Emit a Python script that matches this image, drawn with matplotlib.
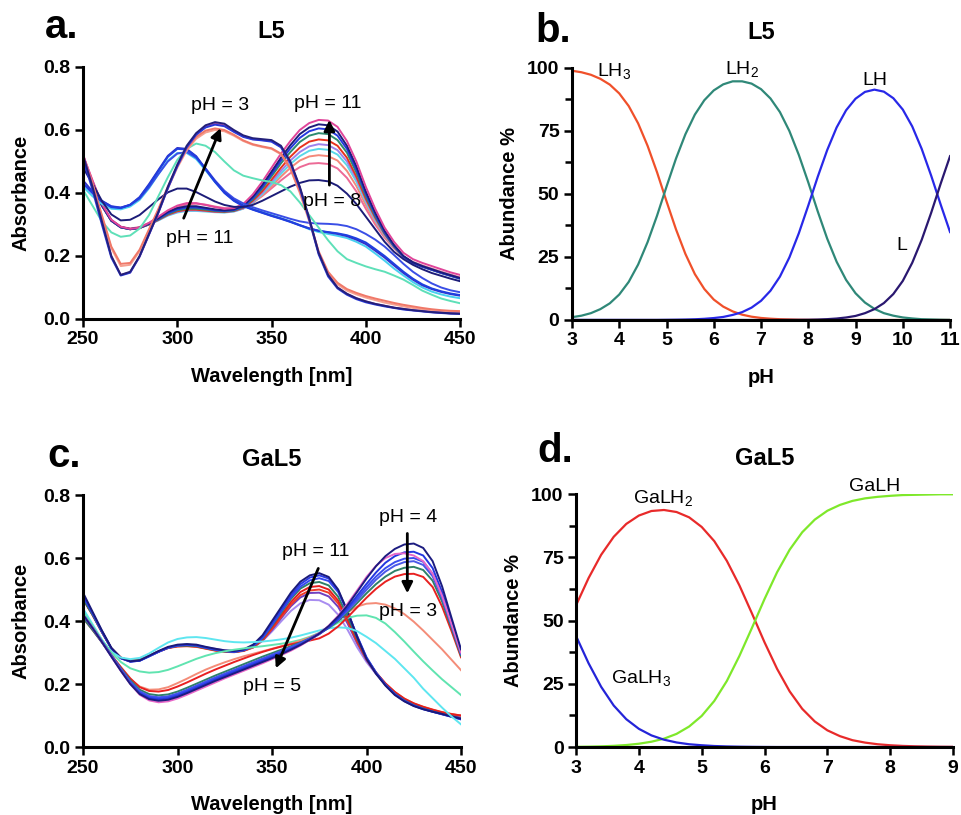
import numpy as np
import matplotlib
matplotlib.use('Agg')
import matplotlib.pyplot as plt
from matplotlib.ticker import MultipleLocator

plt.rcParams['font.family'] = 'Liberation Sans'
plt.rcParams['mathtext.default'] = 'regular'

# wavelength grid (nm), shared by both UV-vis panels
wl = np.arange(250, 451, 5)

# ---- panel a: L5 spectra ----
# high pH set (peak ~378 nm)
a_h1 = [0.52,0.44,0.365,0.315,0.293,0.286,0.29,0.305,0.325,0.345,
        0.36,0.368,0.368,0.362,0.355,0.35,0.352,0.365,0.395,0.435,
        0.48,0.525,0.565,0.60,0.622,0.632,0.63,0.61,0.565,0.50,
        0.42,0.35,0.29,0.245,0.21,0.19,0.178,0.168,0.158,0.148,0.14]
a_h2 = [0.51,0.435,0.362,0.313,0.292,0.286,0.29,0.303,0.32,0.34,
        0.352,0.358,0.358,0.353,0.348,0.345,0.348,0.36,0.388,0.425,
        0.468,0.512,0.552,0.587,0.608,0.618,0.615,0.595,0.55,0.485,
        0.405,0.338,0.28,0.235,0.2,0.18,0.168,0.158,0.148,0.139,0.13]
a_h3 = [0.5,0.43,0.36,0.312,0.291,0.285,0.289,0.302,0.318,0.336,
        0.348,0.354,0.354,0.35,0.345,0.343,0.346,0.357,0.383,0.418,
        0.46,0.503,0.542,0.575,0.596,0.605,0.602,0.582,0.54,0.475,
        0.398,0.332,0.275,0.232,0.198,0.178,0.166,0.156,0.146,0.137,0.128]
a_h4 = [0.5,0.43,0.36,0.312,0.291,0.285,0.289,0.301,0.316,0.333,
        0.345,0.35,0.35,0.347,0.343,0.341,0.344,0.355,0.379,0.413,
        0.453,0.494,0.53,0.562,0.582,0.59,0.587,0.568,0.528,0.465,
        0.39,0.326,0.272,0.23,0.197,0.178,0.166,0.156,0.146,0.137,0.128]
a_h5 = [0.5,0.43,0.36,0.312,0.291,0.285,0.289,0.3,0.315,0.331,
        0.342,0.347,0.347,0.344,0.341,0.34,0.343,0.353,0.375,0.405,
        0.442,0.48,0.515,0.544,0.563,0.57,0.567,0.55,0.512,0.452,
        0.382,0.322,0.27,0.23,0.198,0.179,0.167,0.157,0.147,0.138,0.13]
a_h6 = [0.5,0.43,0.36,0.312,0.291,0.285,0.289,0.3,0.314,0.33,
        0.34,0.345,0.345,0.343,0.34,0.339,0.342,0.351,0.372,0.4,
        0.435,0.47,0.503,0.53,0.548,0.555,0.552,0.536,0.5,0.445,
        0.378,0.318,0.268,0.228,0.197,0.179,0.167,0.157,0.147,0.138,0.13]
a_h7 = [0.5,0.43,0.36,0.312,0.291,0.285,0.289,0.3,0.313,0.328,
        0.338,0.343,0.343,0.341,0.339,0.338,0.341,0.35,0.37,0.396,
        0.428,0.461,0.492,0.517,0.534,0.54,0.537,0.522,0.488,0.436,
        0.372,0.314,0.266,0.228,0.197,0.18,0.168,0.158,0.148,0.139,0.13]
a_h8 = [0.51,0.435,0.362,0.313,0.292,0.286,0.29,0.301,0.315,0.33,
        0.342,0.35,0.352,0.35,0.346,0.343,0.344,0.351,0.368,0.392,
        0.421,0.452,0.48,0.503,0.516,0.52,0.517,0.503,0.47,0.422,
        0.362,0.308,0.262,0.226,0.196,0.18,0.168,0.158,0.148,0.139,0.13]
a_h9 = [0.52,0.44,0.365,0.315,0.293,0.287,0.292,0.305,0.322,0.34,
        0.355,0.364,0.366,0.363,0.357,0.352,0.351,0.356,0.37,0.39,
        0.415,0.44,0.463,0.482,0.493,0.495,0.492,0.478,0.448,0.405,
        0.35,0.3,0.258,0.224,0.196,0.181,0.17,0.16,0.15,0.141,0.132]
# low pH set (peak ~318 nm)
a_l1 = [0.52,0.42,0.31,0.2,0.14,0.15,0.2,0.27,0.34,0.42,
        0.49,0.55,0.59,0.615,0.625,0.62,0.6,0.583,0.574,0.571,
        0.568,0.55,0.5,0.42,0.32,0.21,0.14,0.1,0.08,0.066,
        0.056,0.048,0.042,0.036,0.032,0.028,0.025,0.022,0.02,0.018,0.017]
a_l2 = [0.525,0.42,0.31,0.2,0.14,0.148,0.198,0.268,0.338,0.415,
        0.485,0.545,0.585,0.61,0.62,0.615,0.597,0.58,0.571,0.568,
        0.565,0.547,0.497,0.418,0.318,0.21,0.14,0.1,0.08,0.066,
        0.056,0.048,0.042,0.036,0.032,0.028,0.025,0.022,0.02,0.018,0.017]
a_l3 = [0.51,0.41,0.3,0.195,0.138,0.147,0.198,0.268,0.338,0.415,
        0.485,0.545,0.585,0.608,0.617,0.612,0.594,0.578,0.57,0.567,
        0.563,0.545,0.495,0.415,0.315,0.205,0.135,0.097,0.077,0.063,
        0.053,0.046,0.04,0.035,0.03,0.027,0.024,0.021,0.019,0.017,0.016]
a_l4 = [0.52,0.43,0.33,0.23,0.175,0.178,0.22,0.285,0.35,0.42,
        0.485,0.54,0.578,0.598,0.605,0.6,0.585,0.567,0.555,0.548,
        0.542,0.525,0.478,0.405,0.315,0.215,0.15,0.115,0.095,0.083,
        0.073,0.065,0.058,0.051,0.045,0.04,0.035,0.031,0.028,0.026,0.025]
a_l5 = [0.52,0.43,0.325,0.225,0.168,0.172,0.215,0.28,0.345,0.415,
        0.48,0.535,0.572,0.592,0.6,0.596,0.582,0.565,0.553,0.546,
        0.54,0.523,0.476,0.4,0.31,0.21,0.145,0.11,0.09,0.078,
        0.068,0.06,0.052,0.046,0.04,0.035,0.031,0.028,0.025,0.023,0.022]
# intermediate pH (peak ~302 nm)
a_b1 = [0.43,0.4,0.372,0.355,0.352,0.362,0.385,0.425,0.47,0.515,
        0.54,0.538,0.515,0.475,0.435,0.4,0.375,0.358,0.347,0.337,
        0.327,0.318,0.308,0.297,0.287,0.28,0.276,0.272,0.266,0.256,
        0.243,0.222,0.2,0.175,0.15,0.128,0.11,0.097,0.088,0.081,0.076]
a_b2 = [0.42,0.39,0.365,0.35,0.348,0.357,0.378,0.415,0.46,0.503,
        0.527,0.527,0.508,0.472,0.435,0.403,0.38,0.362,0.35,0.34,
        0.33,0.32,0.31,0.298,0.285,0.276,0.27,0.264,0.257,0.245,
        0.23,0.208,0.185,0.16,0.138,0.117,0.1,0.087,0.078,0.071,0.066]
a_b3 = [0.43,0.4,0.375,0.358,0.354,0.362,0.382,0.418,0.46,0.5,
        0.525,0.53,0.512,0.478,0.44,0.407,0.383,0.367,0.355,0.345,
        0.336,0.327,0.318,0.31,0.305,0.303,0.302,0.3,0.295,0.285,
        0.27,0.252,0.23,0.203,0.175,0.15,0.13,0.113,0.1,0.091,0.085]
a_b4 = [0.44,0.405,0.375,0.357,0.353,0.363,0.387,0.428,0.473,0.518,
        0.543,0.54,0.517,0.477,0.437,0.402,0.377,0.36,0.348,0.338,
        0.328,0.319,0.309,0.298,0.288,0.28,0.275,0.27,0.263,0.252,
        0.238,0.217,0.195,0.17,0.146,0.125,0.107,0.095,0.086,0.079,0.074]
a_n8 = [0.48,0.43,0.375,0.332,0.313,0.315,0.33,0.355,0.38,0.402,
        0.414,0.414,0.403,0.388,0.373,0.362,0.356,0.356,0.362,0.375,
        0.39,0.405,0.42,0.432,0.44,0.441,0.437,0.423,0.398,0.365,
        0.325,0.285,0.245,0.213,0.19,0.172,0.158,0.146,0.137,0.128,0.12]
a_t1 = [0.41,0.36,0.31,0.275,0.261,0.265,0.287,0.33,0.39,0.45,
        0.505,0.54,0.557,0.55,0.53,0.5,0.472,0.455,0.447,0.44,
        0.435,0.425,0.405,0.37,0.33,0.29,0.25,0.215,0.19,0.178,
        0.167,0.158,0.15,0.138,0.125,0.108,0.09,0.077,0.065,0.057,0.05]

# ---- panel c: GaL5 spectra ----
# peak ~375 nm
c_p1 = [0.49,0.43,0.37,0.315,0.283,0.272,0.275,0.29,0.305,0.318,
        0.325,0.327,0.325,0.318,0.312,0.307,0.305,0.31,0.325,0.355,
        0.4,0.445,0.49,0.525,0.545,0.552,0.54,0.5,0.43,0.35,
        0.28,0.233,0.195,0.165,0.145,0.13,0.12,0.112,0.105,0.097,0.09]
c_p2 = [0.48,0.425,0.367,0.313,0.282,0.271,0.274,0.288,0.303,0.316,
        0.323,0.325,0.323,0.316,0.31,0.305,0.303,0.308,0.322,0.35,
        0.393,0.438,0.482,0.517,0.538,0.545,0.535,0.497,0.43,0.352,
        0.283,0.235,0.197,0.167,0.146,0.131,0.12,0.112,0.104,0.096,0.088]
c_p3 = [0.48,0.425,0.367,0.313,0.282,0.271,0.274,0.288,0.302,0.315,
        0.322,0.324,0.322,0.315,0.309,0.304,0.302,0.307,0.32,0.347,
        0.388,0.432,0.475,0.509,0.529,0.536,0.527,0.492,0.428,0.353,
        0.285,0.237,0.198,0.168,0.147,0.132,0.121,0.112,0.104,0.096,0.088]
c_p4 = [0.47,0.42,0.365,0.313,0.283,0.273,0.276,0.289,0.303,0.315,
        0.321,0.322,0.32,0.314,0.308,0.304,0.302,0.307,0.32,0.345,
        0.385,0.428,0.47,0.503,0.52,0.524,0.513,0.477,0.415,0.345,
        0.282,0.236,0.198,0.169,0.148,0.133,0.122,0.113,0.105,0.098,0.09]
c_p5 = [0.47,0.42,0.365,0.313,0.284,0.274,0.277,0.29,0.303,0.315,
        0.32,0.321,0.319,0.313,0.307,0.303,0.302,0.306,0.318,0.342,
        0.38,0.42,0.46,0.492,0.508,0.511,0.5,0.465,0.405,0.338,
        0.28,0.237,0.202,0.174,0.153,0.138,0.127,0.118,0.11,0.104,0.1]
c_p6 = [0.47,0.42,0.365,0.313,0.284,0.274,0.277,0.29,0.303,0.314,
        0.319,0.32,0.318,0.312,0.306,0.302,0.301,0.305,0.316,0.339,
        0.375,0.414,0.452,0.482,0.497,0.5,0.49,0.456,0.4,0.335,
        0.278,0.236,0.202,0.175,0.154,0.139,0.128,0.119,0.111,0.105,0.1]
c_p7 = [0.48,0.425,0.367,0.313,0.282,0.272,0.275,0.289,0.303,0.315,
        0.321,0.323,0.321,0.315,0.309,0.304,0.302,0.306,0.316,0.338,
        0.372,0.41,0.447,0.475,0.489,0.49,0.478,0.445,0.392,0.33,
        0.276,0.234,0.2,0.172,0.151,0.136,0.125,0.116,0.108,0.1,0.093]
c_p8 = [0.47,0.42,0.365,0.313,0.283,0.273,0.276,0.289,0.303,0.315,
        0.321,0.323,0.322,0.317,0.312,0.307,0.305,0.308,0.318,0.337,
        0.367,0.4,0.432,0.456,0.467,0.466,0.452,0.42,0.372,0.317,
        0.27,0.232,0.199,0.172,0.151,0.136,0.125,0.116,0.108,0.1,0.093]
# transition curves
c_cy = [0.44,0.39,0.34,0.302,0.284,0.279,0.283,0.297,0.315,0.332,
        0.343,0.348,0.349,0.346,0.341,0.336,0.333,0.332,0.333,0.335,
        0.338,0.342,0.347,0.354,0.362,0.37,0.377,0.38,0.378,0.368,
        0.35,0.33,0.305,0.28,0.25,0.22,0.185,0.155,0.125,0.097,0.072]
c_tq = [0.43,0.385,0.34,0.3,0.27,0.25,0.24,0.236,0.238,0.245,
        0.256,0.268,0.28,0.29,0.298,0.304,0.309,0.313,0.317,0.32,
        0.324,0.328,0.333,0.34,0.35,0.362,0.378,0.395,0.41,0.417,
        0.418,0.41,0.392,0.365,0.335,0.303,0.272,0.243,0.215,0.19,0.165]
c_sa = [0.42,0.38,0.335,0.29,0.25,0.215,0.192,0.182,0.183,0.19,
        0.203,0.217,0.232,0.246,0.258,0.269,0.279,0.288,0.296,0.304,
        0.312,0.32,0.328,0.337,0.348,0.362,0.382,0.405,0.428,0.446,
        0.455,0.457,0.452,0.44,0.422,0.398,0.37,0.34,0.31,0.277,0.244]
# peak ~425 nm
c_q1 = [0.42,0.378,0.333,0.287,0.242,0.2,0.168,0.152,0.147,0.15,
        0.159,0.171,0.184,0.197,0.21,0.222,0.234,0.246,0.258,0.27,
        0.282,0.295,0.309,0.324,0.341,0.36,0.384,0.414,0.45,0.492,
        0.535,0.574,0.606,0.629,0.643,0.646,0.632,0.59,0.51,0.41,0.31]
c_q2 = [0.42,0.378,0.333,0.287,0.242,0.2,0.166,0.148,0.142,0.145,
        0.154,0.166,0.179,0.192,0.205,0.218,0.23,0.242,0.254,0.266,
        0.279,0.292,0.306,0.322,0.34,0.36,0.385,0.417,0.455,0.497,
        0.54,0.575,0.6,0.613,0.615,0.608,0.59,0.55,0.48,0.39,0.3]
c_q3 = [0.42,0.378,0.334,0.288,0.244,0.202,0.17,0.155,0.151,0.154,
        0.163,0.175,0.188,0.201,0.214,0.226,0.238,0.25,0.262,0.274,
        0.286,0.298,0.311,0.325,0.341,0.358,0.38,0.408,0.442,0.48,
        0.518,0.554,0.585,0.606,0.618,0.62,0.608,0.568,0.492,0.4,0.305]
c_q4 = [0.42,0.378,0.335,0.29,0.246,0.205,0.174,0.159,0.155,0.158,
        0.167,0.179,0.192,0.205,0.218,0.23,0.242,0.254,0.266,0.278,
        0.29,0.302,0.314,0.328,0.343,0.36,0.38,0.405,0.437,0.472,
        0.508,0.541,0.568,0.587,0.598,0.6,0.588,0.55,0.478,0.39,0.3]
c_q5 = [0.42,0.379,0.336,0.291,0.248,0.208,0.177,0.162,0.158,0.161,
        0.17,0.182,0.195,0.208,0.221,0.233,0.245,0.257,0.269,0.281,
        0.293,0.305,0.317,0.33,0.345,0.361,0.38,0.404,0.433,0.465,
        0.499,0.531,0.557,0.576,0.587,0.59,0.578,0.542,0.472,0.385,0.295]
c_q6 = [0.41,0.372,0.332,0.29,0.25,0.212,0.182,0.168,0.164,0.167,
        0.176,0.188,0.201,0.214,0.227,0.239,0.251,0.263,0.275,0.287,
        0.298,0.309,0.32,0.332,0.345,0.36,0.378,0.4,0.427,0.457,
        0.488,0.517,0.541,0.559,0.569,0.572,0.562,0.528,0.462,0.378,0.29]
c_q7 = [0.41,0.372,0.333,0.292,0.254,0.218,0.19,0.178,0.176,0.181,
        0.192,0.205,0.219,0.233,0.246,0.258,0.27,0.281,0.292,0.302,
        0.311,0.319,0.326,0.332,0.338,0.345,0.36,0.383,0.412,0.443,
        0.474,0.502,0.525,0.541,0.549,0.55,0.54,0.508,0.446,0.368,0.285]

# ---- panel b: L5 species distribution (%) ----
ph_b = np.arange(3, 11.01, 0.2)
lh3 = [98.9,98.3,97.3,95.7,93.4,89.9,84.9,78.0,69.1,58.6,
       47.1,36.0,26.2,18.2,12.3,8.1,5.3,3.4,2.1,1.3,
       0.8,0.5,0.3,0.2,0.1,0.05,0.02,0,0,0,
       0,0,0,0,0,0,0,0,0,0,0]
lh2 = [1.1,1.7,2.7,4.3,6.6,10.1,15.1,22.0,30.9,41.4,
       52.9,64.0,73.7,81.5,87.2,91.1,93.5,94.7,94.7,93.8,
       91.6,87.9,82.5,75.0,65.5,54.6,43.1,32.3,23.1,15.9,
       10.6,6.9,4.4,2.7,1.7,1.0,0.6,0.3,0.2,0.1,0.04]
lh = [0,0,0,0,0,0,0,0,0,0,
      0.04,0.08,0.15,0.27,0.46,0.76,1.2,2.0,3.1,4.9,
      7.6,11.6,17.2,24.8,34.4,45.4,56.8,67.4,76.4,83.2,
      87.8,90.5,91.4,90.6,88.0,83.5,76.8,67.9,57.3,45.9,34.9]
l_free = [0,0,0,0,0,0,0,0,0,0,
          0,0,0,0,0,0,0,0,0,0,
          0,0,0,0.02,0.04,0.08,0.17,0.32,0.57,0.98,
          1.6,2.7,4.3,6.7,10.3,15.5,22.7,31.8,42.5,54.0,65.0]

# ---- panel d: GaL5 species distribution (%) ----
ph_d = np.arange(3, 9.01, 0.2)
galh3 = [43.9,33.1,23.8,16.4,11.0,7.2,4.6,2.9,1.8,1.1,
         0.7,0.4,0.23,0.13,0.07,0.03,0,0,0,0,
         0,0,0,0,0,0,0,0,0,0,0]
galh2 = [56.0,66.8,76.0,83.1,88.2,91.5,93.3,93.7,92.9,90.8,
         87.0,81.4,73.6,63.9,52.8,41.4,30.9,22.0,15.1,10.1,
         6.6,4.3,2.7,1.75,1.1,0.7,0.44,0.28,0.18,0.11,0.07]
galh = [0.08,0.15,0.27,0.47,0.79,1.3,2.1,3.3,5.2,8.1,
        12.3,18.2,26.1,36.0,47.1,58.5,69.1,78.0,84.9,89.9,
        93.4,95.7,97.3,98.3,98.9,99.3,99.6,99.7,99.8,99.9,99.9]


def style(ax):
    # prism-like look: thick left/bottom axes, bold ticks
    for s in ['top', 'right']:
        ax.spines[s].set_visible(False)
    for s in ['left', 'bottom']:
        ax.spines[s].set_linewidth(2.2)
    ax.tick_params(which='major', direction='out', length=6, width=1.8, pad=3)
    ax.tick_params(which='minor', direction='out', length=5, width=1.8)
    for lab in ax.get_xticklabels() + ax.get_yticklabels():
        lab.set_fontweight('bold')
        lab.set_fontsize(14)


fig = plt.figure(figsize=(9.61, 8.15), dpi=100)
axA = fig.add_axes([0.0864, 0.6086, 0.3923, 0.3092])
axB = fig.add_axes([0.5952, 0.6074, 0.3934, 0.3092])
axC = fig.add_axes([0.0864, 0.0834, 0.3933, 0.3092])
axD = fig.add_axes([0.5994, 0.0834, 0.3923, 0.3104])

lw = 1.4
# panel a
for y, c in [(a_h9, '#ec6a96'), (a_h8, '#f4887a'), (a_h7, '#5ad8e8'), (a_h6, '#9c82ec'),
             (a_h5, '#e8321e'), (a_h4, '#2e8b6e'), (a_h3, '#2438e0'), (a_h2, '#1c1c7a'),
             (a_h1, '#e0459a'), (a_b2, '#48d0f0'), (a_b3, '#3a4ee6'), (a_b4, '#3030c8'),
             (a_b1, '#1f3fe0'), (a_n8, '#1c1c78'), (a_t1, '#5ee0b8'), (a_l5, '#f5a090'),
             (a_l4, '#f07868'), (a_l2, '#c050a8'), (a_l3, '#2838d8'), (a_l1, '#23207a')]:
    axA.plot(wl, y, color=c, lw=lw)
axA.set_xlim(250, 450)
axA.set_ylim(0, 0.8)
axA.xaxis.set_major_locator(MultipleLocator(50))
axA.yaxis.set_major_locator(MultipleLocator(0.2))
axA.set_xlabel('Wavelength [nm]', fontsize=14.5, fontweight='bold')
axA.set_ylabel('Absorbance', fontsize=14.5, fontweight='bold')
axA.set_title('L5', fontsize=17, fontweight='bold', pad=21)
ap = dict(arrowstyle='-|>', color='black', lw=2, mutation_scale=16, shrinkA=0, shrinkB=0)
axA.annotate('', xy=(323, 0.606), xytext=(303.4, 0.32), arrowprops=ap)
axA.annotate('', xy=(380.7, 0.632), xytext=(380.7, 0.425), arrowprops=ap)
axA.text(322.5, 0.679, 'pH = 3', fontsize=14, ha='center', va='center')
axA.text(312, 0.254, 'pH = 11', fontsize=14, ha='center', va='center')
axA.text(379.9, 0.684, 'pH = 11', fontsize=14, ha='center', va='center')
axA.text(382, 0.373, 'pH = 8', fontsize=14, ha='center', va='center')

# panel b
axB.plot(ph_b, lh3, color='#f0502a', lw=1.6)
axB.plot(ph_b, lh2, color='#2f8878', lw=1.6)
axB.plot(ph_b, lh, color='#2828e8', lw=1.6)
axB.plot(ph_b, l_free, color='#2a1870', lw=1.6)
axB.set_xlim(3, 11)
axB.set_ylim(0, 100)
axB.xaxis.set_major_locator(MultipleLocator(1))
axB.yaxis.set_major_locator(MultipleLocator(25))
axB.yaxis.set_minor_locator(MultipleLocator(12.5))
axB.set_xlabel('pH', fontsize=14.5, fontweight='bold')
axB.set_ylabel('Abundance %', fontsize=14.5, fontweight='bold')
axB.set_title('L5', fontsize=17, fontweight='bold', pad=21)
axB.text(3.53, 96.9, 'LH$_3$', fontsize=14, ha='left', va='baseline')
axB.text(6.24, 97.7, 'LH$_2$', fontsize=14, ha='left', va='baseline')
axB.text(9.14, 93.4, 'LH', fontsize=14, ha='left', va='baseline')
axB.text(9.86, 27.8, 'L', fontsize=14, ha='left', va='baseline')

# panel c
for y, c in [(c_p8, '#a88cf0'), (c_p7, '#7040c0'), (c_p6, '#f03c28'), (c_p5, '#e41e1e'),
             (c_p4, '#2e8068'), (c_p3, '#3648f0'), (c_p2, '#2a3ae6'), (c_p1, '#1a1a7a'),
             (c_cy, '#5ee6f0'), (c_tq, '#60e4b0'), (c_sa, '#f48c78'),
             (c_q7, '#e82020'), (c_q6, '#2e8068'), (c_q5, '#4a58e8'), (c_q4, '#3a4cf0'),
             (c_q3, '#2436e0'), (c_q2, '#e868c8'), (c_q1, '#1c1c80')]:
    axC.plot(wl, y, color=c, lw=lw)
axC.set_xlim(250, 450)
axC.set_ylim(0, 0.8)
axC.xaxis.set_major_locator(MultipleLocator(50))
axC.yaxis.set_major_locator(MultipleLocator(0.2))
axC.set_xlabel('Wavelength [nm]', fontsize=14.5, fontweight='bold')
axC.set_ylabel('Absorbance', fontsize=14.5, fontweight='bold')
axC.set_title('GaL5', fontsize=17, fontweight='bold', pad=21)
axC.annotate('', xy=(421.6, 0.488), xytext=(421.6, 0.678), arrowprops=ap)
axC.annotate('', xy=(352, 0.25), xytext=(374.5, 0.567), arrowprops=ap)
axC.text(422, 0.73, 'pH = 4', fontsize=14, ha='center', va='center')
axC.text(422, 0.429, 'pH = 3', fontsize=14, ha='center', va='center')
axC.text(373, 0.62, 'pH = 11', fontsize=14, ha='center', va='center')
axC.text(350, 0.191, 'pH = 5', fontsize=14, ha='center', va='center')

# panel d
axD.plot(ph_d, galh2, color='#e82a2a', lw=1.6)
axD.plot(ph_d, galh, color='#7ee82a', lw=1.6)
axD.plot(ph_d, galh3, color='#2424d8', lw=1.6)
axD.set_xlim(3, 9)
axD.set_ylim(0, 100)
axD.xaxis.set_major_locator(MultipleLocator(1))
axD.yaxis.set_major_locator(MultipleLocator(25))
axD.yaxis.set_minor_locator(MultipleLocator(12.5))
axD.set_xlabel('pH', fontsize=14.5, fontweight='bold')
axD.set_ylabel('Abundance %', fontsize=14.5, fontweight='bold')
axD.set_title('GaL5', fontsize=17, fontweight='bold', pad=21)
axD.text(3.90, 96.3, 'GaLH$_2$', fontsize=14, ha='left', va='baseline')
axD.text(3.557, 25.2, 'GaLH$_3$', fontsize=14, ha='left', va='baseline')
axD.text(7.35, 101.3, 'GaLH', fontsize=14, ha='left', va='baseline')

for ax in [axA, axB, axC, axD]:
    style(ax)
    ax.xaxis.set_label_coords(0.5, -0.19)
    ax.yaxis.set_label_coords(-0.14, 0.5)

# panel letters
axA.text(-0.10, 1.115, 'a.', transform=axA.transAxes, fontsize=29, fontweight='bold')
axB.text(-0.098, 1.103, 'b.', transform=axB.transAxes, fontsize=29, fontweight='bold')
axC.text(-0.095, 1.111, 'c.', transform=axC.transAxes, fontsize=29, fontweight='bold')
axD.text(-0.103, 1.127, 'd.', transform=axD.transAxes, fontsize=29, fontweight='bold')

fig.savefig('out.png', dpi=100)
